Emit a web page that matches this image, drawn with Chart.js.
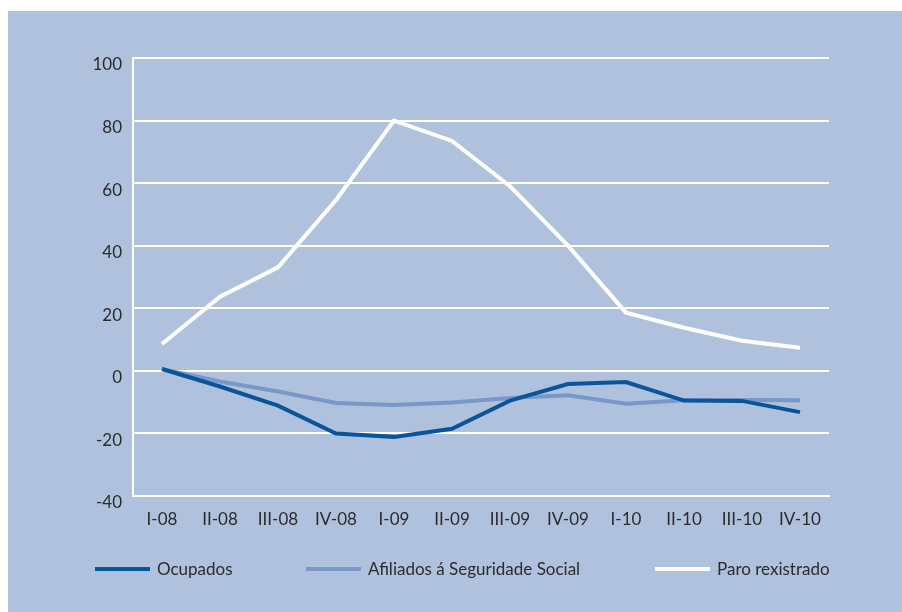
<!DOCTYPE html>
<html>
<head>
<meta charset="utf-8">
<script src="https://cdn.jsdelivr.net/npm/chart.js@4"></script>
<style>
  html, body { margin: 0; padding: 0; background: #ffffff; }
  #wrap { position: absolute; left: 8px; top: 11px; width: 894px; height: 601px; background: #b0c1de; }
  canvas { display: block; }
</style>
</head>
<body>
<div id="wrap"><canvas id="c" width="894" height="601"></canvas></div>
<script>
// Quarterly year-on-year change (%)
const categories = ['I-08','II-08','III-08','IV-08','I-09','II-09','III-09','IV-09','I-10','II-10','III-10','IV-10'];
const ocupados  = [0.6, -5.0, -11.1, -20.0, -21.1, -18.5, -9.5, -4.2, -3.6, -9.5, -9.6, -13.2];
const afiliados = [0.6, -3.4, -6.6, -10.3, -10.9, -10.1, -8.7, -7.8, -10.5, -9.4, -9.3, -9.4];
const paro      = [8.6, 23.7, 33.1, 54.6, 80.0, 73.5, 59.0, 40.0, 18.6, 13.8, 9.6, 7.4];
const seriesNames = ['Ocupados', 'Afiliados á Seguridade Social', 'Paro rexistrado'];

const FONT = 'Lato, "Noto Sans", sans-serif';
const TEXT = '#2b2b2b';

// Legend drawn as a single row of line samples under the axis
const rowLegend = {
  id: 'rowLegend',
  afterDraw(chart, args, opts) {
    const ctx = chart.ctx;
    ctx.save();
    ctx.font = opts.fontSize + 'px ' + FONT;
    ctx.textBaseline = 'middle';
    chart.data.datasets.forEach((ds, i) => {
      const x = opts.xs[i];
      ctx.fillStyle = ds.borderColor;
      ctx.fillRect(x, opts.y - opts.thick / 2, opts.boxWidth, opts.thick);
      ctx.fillStyle = TEXT;
      ctx.fillText(ds.label, x + opts.boxWidth + opts.gap, opts.y + 1);
    });
    ctx.restore();
  }
};

const line = (label, data, color) => ({
  label, data,
  borderColor: color,
  backgroundColor: color,
  borderWidth: 4,
  pointRadius: 0,
  tension: 0,
  fill: false
});

new Chart(document.getElementById('c'), {
  type: 'line',
  data: {
    labels: categories,
    datasets: [
      line(seriesNames[0], ocupados, '#0a5499'),
      line(seriesNames[1], afiliados, '#7898c9'),
      line(seriesNames[2], paro, '#ffffff')
    ]
  },
  options: {
    responsive: false,
    devicePixelRatio: 1,
    animation: false,
    layout: { padding: { top: 47, right: 73, left: 0, bottom: 76 } },
    plugins: {
      legend: { display: false },
      tooltip: { enabled: false },
      rowLegend: { xs: [87, 298, 647], y: 558, boxWidth: 55, thick: 4, gap: 7, fontSize: 17 }
    },
    scales: {
      x: {
        offset: true,
        grid: { display: false, drawTicks: false },
        border: { display: true, color: '#ffffff', width: 2 },
        ticks: { color: TEXT, font: { family: FONT, size: 17 }, padding: 13, maxRotation: 0, autoSkip: false },
        afterFit(scale) { scale.height = 40; }
      },
      y: {
        min: -40, max: 100,
        grid: { color: '#ffffff', lineWidth: 2, drawTicks: false },
        border: { display: true, color: '#ffffff', width: 2 },
        ticks: { stepSize: 20, color: TEXT, font: { family: FONT, size: 17 }, padding: 11, labelOffset: 7 },
        afterFit(scale) { scale.width = 125; }
      }
    }
  },
  plugins: [rowLegend]
});
</script>
</body>
</html>
